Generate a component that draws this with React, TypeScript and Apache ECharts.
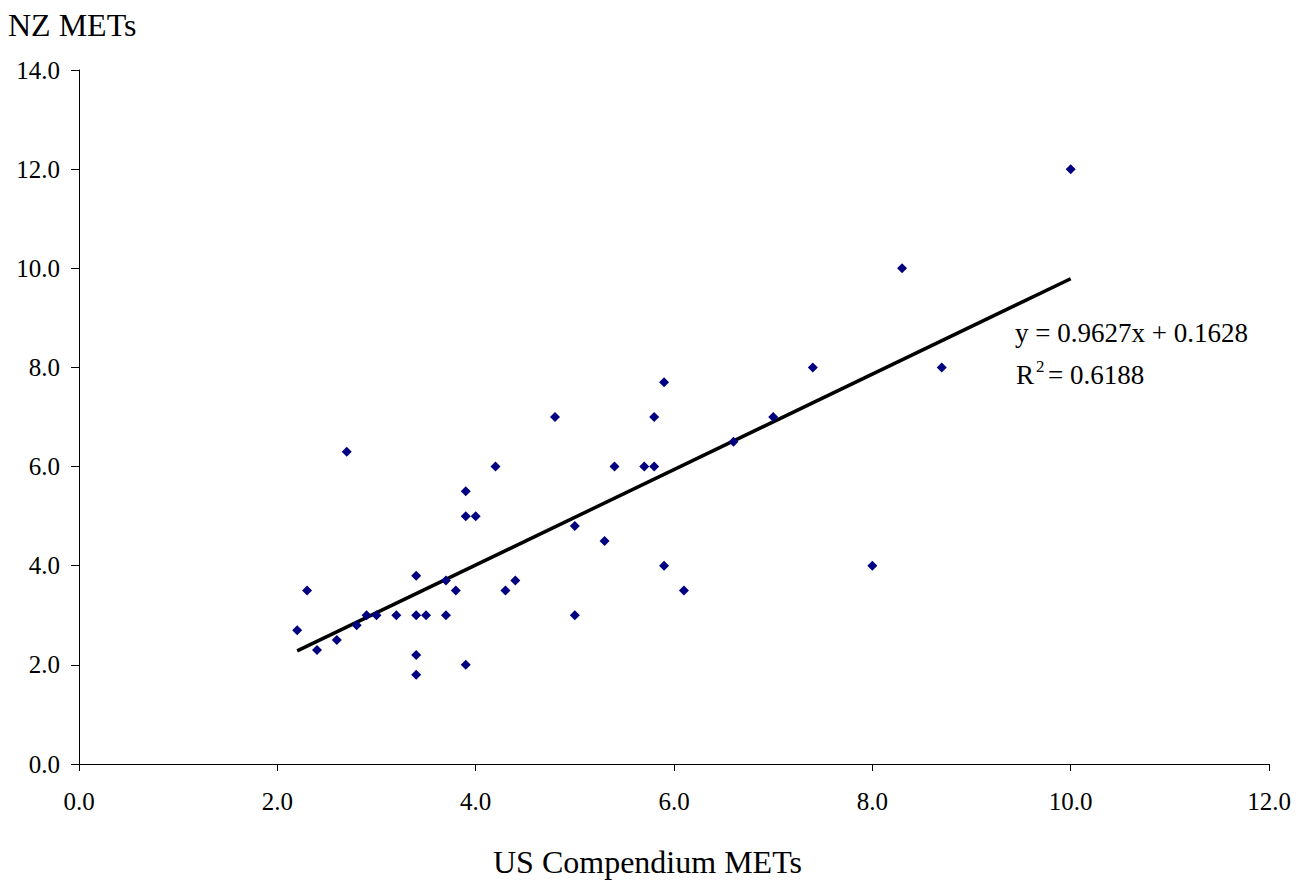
import React, { useEffect, useRef } from "react";
import * as echarts from "echarts";

const usMets = [2.2, 2.3, 2.4, 2.6, 2.7, 2.8, 2.9, 3.0, 3.2, 3.4, 3.4, 3.5, 3.4, 3.4, 3.7, 3.7, 3.8, 3.9, 3.9, 4.0, 3.9, 4.2, 4.3, 4.4, 4.8, 5.0, 5.0, 5.3, 5.4, 5.7, 5.8, 5.8, 5.9, 5.9, 6.1, 6.6, 7.0, 7.4, 8.0, 8.3, 8.7, 10.0];
const nzMets = [2.7, 3.5, 2.3, 2.5, 6.3, 2.8, 3.0, 3.0, 3.0, 3.8, 3.0, 3.0, 2.2, 1.8, 3.7, 3.0, 3.5, 5.5, 5.0, 5.0, 2.0, 6.0, 3.5, 3.7, 7.0, 4.8, 3.0, 4.5, 6.0, 6.0, 6.0, 7.0, 7.7, 4.0, 3.5, 6.5, 7.0, 8.0, 4.0, 10.0, 8.0, 12.0];
const slope = 0.9627;
const intercept = 0.1628;
const trendX = [2.2, 10.0];
const eqText = "y = 0.9627x + 0.1628";
const r2Value = "= 0.6188";
const yAxisTitle = "NZ METs";
const xAxisTitle = "US Compendium METs";

const FONT = "Liberation Serif";

export default function App() {
  const ref = useRef<HTMLDivElement>(null);
  useEffect(() => {
    const chart = echarts.init(ref.current!, null, { renderer: "svg" });
    const points = usMets.map((x, i) => [x, nzMets[i]]);
    const trend = trendX.map((x) => [x, slope * x + intercept]);
    const txt = (x: number, y: number, text: string, size: number) => ({
      type: "text",
      x,
      y,
      style: { text, fontSize: size, fontFamily: FONT, fill: "#000", align: "left", verticalAlign: "middle" },
    });
    chart.setOption({
      animation: false,
      backgroundColor: "#ffffff",
      grid: { left: 79, right: 36, top: 70, bottom: 117 },
      xAxis: {
        type: "value",
        min: 0,
        max: 12,
        interval: 2,
        axisLine: { lineStyle: { color: "#000", width: 1 } },
        axisTick: { show: true, length: 7, lineStyle: { color: "#000" } },
        splitLine: { show: false },
        axisLabel: {
          color: "#000",
          fontFamily: FONT,
          fontSize: 25,
          margin: 37,
          verticalAlign: "middle",
          formatter: (v: number) => v.toFixed(1),
        },
      },
      yAxis: {
        type: "value",
        min: 0,
        max: 14,
        interval: 2,
        axisLine: { show: true, lineStyle: { color: "#000", width: 1 } },
        axisTick: { show: true, length: 8, lineStyle: { color: "#000" } },
        splitLine: { show: false },
        axisLabel: {
          color: "#000",
          fontFamily: FONT,
          fontSize: 25,
          margin: 19,
          formatter: (v: number) => v.toFixed(1),
        },
      },
      series: [
        {
          type: "scatter",
          data: points,
          symbol: "diamond",
          symbolSize: 10,
          itemStyle: { color: "#000080", opacity: 1 },
          z: 3,
        },
        {
          type: "line",
          data: trend,
          showSymbol: false,
          symbol: "none",
          lineStyle: { color: "#000", width: 3.5 },
          z: 2,
        },
      ],
      graphic: [
        txt(8, 25, yAxisTitle, 32),
        txt(493, 862, xAxisTitle, 32),
        txt(1015, 333, eqText, 27),
        txt(1016, 375, "R", 27),
        txt(1036, 366, "2", 17),
        txt(1048, 375, r2Value, 27),
      ],
    });
    return () => chart.dispose();
  }, []);
  return <div ref={ref} style={{ width: 1305, height: 881, position: "absolute", left: 0, top: 0 }} />;
}
